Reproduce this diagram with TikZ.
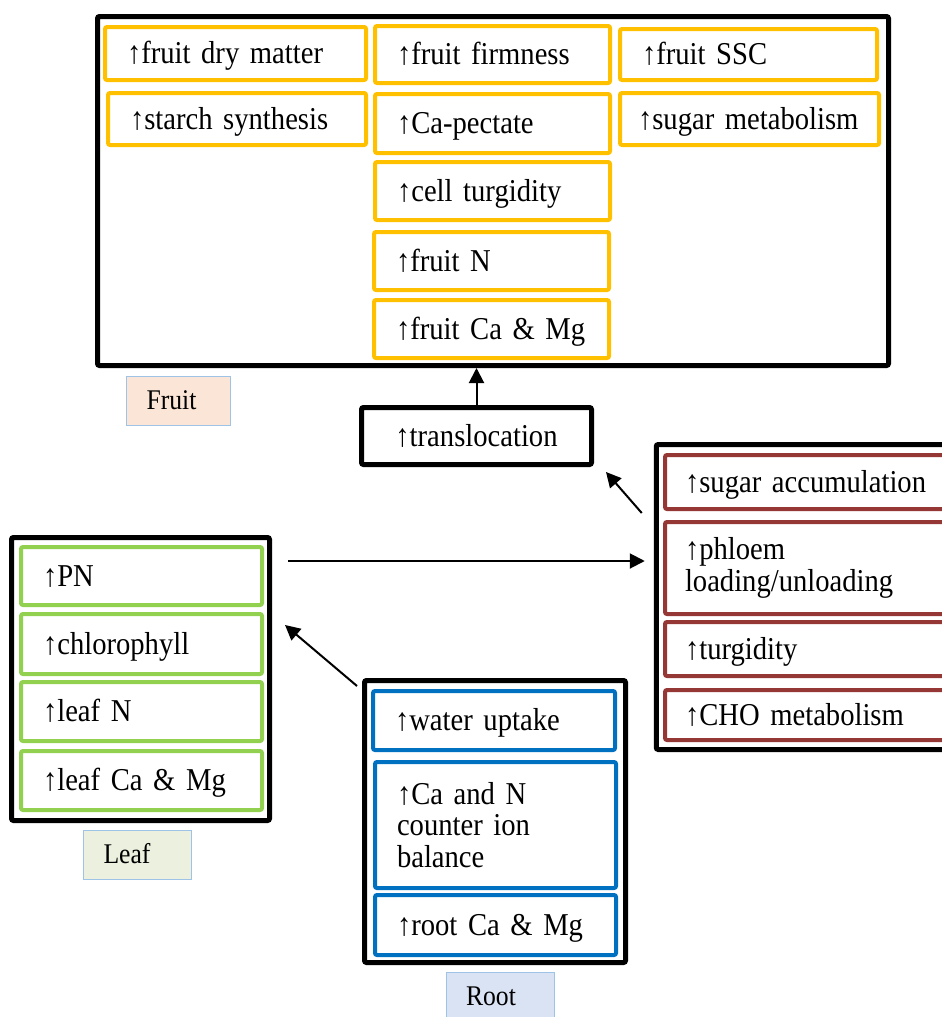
\documentclass[tikz,border=0pt]{standalone}
\usepackage{fontspec}
\setmainfont{Liberation Serif}[FakeStretch=0.9]
\usetikzlibrary{arrows.meta}
\definecolor{fy}{HTML}{FFC000}
\definecolor{fg}{HTML}{92D050}
\definecolor{fr}{HTML}{953735}
\definecolor{fb}{HTML}{0070C0}
\definecolor{lb}{HTML}{9DC3E6}
\definecolor{peach}{HTML}{FBE5D6}
\definecolor{lgreen}{HTML}{EBF1DE}
\definecolor{lblue}{HTML}{DAE3F3}
\newcommand{\mainsize}{\fontsize{31.8}{31.5}\selectfont\spaceskip=6pt plus 2pt minus 1pt\relax}
\begin{document}
\begin{tikzpicture}[x=1pt,y=-1pt,
  outerbox/.style={draw=black, line width=5pt, rounded corners=2pt, fill=white, inner sep=0pt},
  inbox/.style n args={4}{draw=#1, line width=4pt, rounded corners=2pt, fill=white,
     minimum width=#2, minimum height=#3, text width=#4, align=left, inner ysep=0pt,
     font=\mainsize},
  sl/.style={text height=23pt, text depth=3pt},
  tag/.style n args={3}{draw=lb, line width=1pt, fill=#1, minimum width=#2, minimum height=#3,
     inner xsep=20pt, align=left, text width=#2-40pt, text height=20pt, text depth=4pt,
     font=\fontsize{28.5}{28}\selectfont},
  arr/.style={-{Triangle[width=15pt,length=15pt]}, line width=2pt}
]
\useasboundingbox (0,0) rectangle (942,1017);
\clip (0,0) rectangle (942,1017);

% ---------------- Fruit ----------------
\node[outerbox, minimum width=791pt, minimum height=349pt] (fruit) at (493,191) {};
\node[inbox={fy}{261pt}{53pt}{217pt}, sl, inner xsep=22pt] (y1) at (235.5,53.5) {↑fruit dry matter};
\node[inbox={fy}{258pt}{52pt}{214pt}, sl, inner xsep=22pt] (y2) at (237,119) {↑starch synthesis};
\node[inbox={fy}{235pt}{57pt}{191pt}, sl, inner xsep=22pt] (y3) at (492.5,54.5) {↑fruit firmness};
\node[inbox={fy}{235pt}{59pt}{191pt}, sl, inner xsep=22pt] (y4) at (492.5,123.5) {↑Ca-pectate};
\node[inbox={fy}{235pt}{58pt}{191pt}, sl, inner xsep=22pt] (y5) at (492.5,191) {↑cell turgidity};
\node[inbox={fy}{235pt}{58pt}{191pt}, sl, inner xsep=22pt] (y6) at (491.5,261) {↑fruit N};
\node[inbox={fy}{235pt}{58pt}{191pt}, sl, inner xsep=22pt] (y7) at (491.5,329) {↑fruit Ca \& Mg};
\node[inbox={fy}{257pt}{51pt}{213pt}, sl, inner xsep=22pt] (y8) at (748.5,54.5) {↑fruit SSC};
\node[inbox={fy}{259pt}{52pt}{223pt}, sl, inner xsep=18pt] (y9) at (749.5,119) {↑sugar metabolism};
\node[tag={peach}{104pt}{49pt}] (fruittag) at (178.5,401) {Fruit};

% ---------------- Translocation ----------------
\node[draw=black, line width=5pt, rounded corners=2pt, fill=white, minimum width=230pt,
      minimum height=57pt, text height=23pt, text depth=3pt,
      font=\mainsize] (tr) at (476.5,436) {↑translocation};

% ---------------- Right (sink) ----------------
\node[outerbox, minimum width=303.5pt, minimum height=305pt] (rb) at (808,597) {};
\node[inbox={fr}{285pt}{54pt}{245pt}, sl, inner xsep=20pt] (r1) at (807.5,482) {↑sugar accumulation};
\node[inbox={fr}{285pt}{92pt}{245pt}, inner xsep=20pt] (r2) at (807.5,568) {↑phloem\\loading/unloading};
\node[inbox={fr}{285pt}{54pt}{245pt}, sl, inner xsep=20pt] (r3) at (807.5,649) {↑turgidity};
\node[inbox={fr}{285pt}{50pt}{245pt}, sl, inner xsep=20pt] (r4) at (807.5,715) {↑CHO metabolism};

% ---------------- Leaf ----------------
\node[outerbox, minimum width=258pt, minimum height=283pt] (leaf) at (140.5,679) {};
\node[inbox={fg}{241pt}{58pt}{197pt}, sl, inner xsep=22pt] (g1) at (141.5,576) {↑PN};
\node[inbox={fg}{241pt}{60pt}{197pt}, sl, inner xsep=22pt] (g2) at (141.5,644) {↑chlorophyll};
\node[inbox={fg}{241pt}{59pt}{197pt}, sl, inner xsep=22pt] (g3) at (141.5,711.5) {↑leaf N};
\node[inbox={fg}{241pt}{59pt}{197pt}, sl, inner xsep=22pt] (g4) at (141.5,780.5) {↑leaf Ca \& Mg};
\node[tag={lgreen}{108pt}{49pt}] (leaftag) at (137.5,855) {Leaf};

% ---------------- Root ----------------
\node[outerbox, minimum width=261pt, minimum height=282pt] (root) at (495,821.5) {};
\node[inbox={fb}{242pt}{59pt}{198pt}, sl, inner xsep=22pt] (b1) at (494,720.5) {↑water uptake};
\node[inbox={fb}{241pt}{126pt}{197pt}, inner xsep=22pt] (b2) at (495.5,825) {↑Ca and N\\counter ion\\balance};
\node[inbox={fb}{241pt}{60pt}{197pt}, sl, inner xsep=22pt] (b3) at (495.5,925) {↑root Ca \& Mg};
\node[tag={lblue}{108pt}{50pt}] (roottag) at (500,997) {Root};

% ---------------- Connectors ----------------
\draw[arr] (tr.north) -- (tr.north |- fruit.south);
\draw[arr] ([xshift=-12pt,yshift=-71pt]rb.north west) -- ([xshift=12pt,yshift=-5pt]tr.south east);
\draw[arr] ([xshift=16pt,yshift=-26pt]leaf.north east) -- ([xshift=-9pt,yshift=-26pt]leaf.north east -| rb.west);
\draw[arr] ([xshift=-5pt,yshift=-8pt]root.north west) -- ([xshift=13pt,yshift=-90pt]leaf.north east);
\end{tikzpicture}
\end{document}
